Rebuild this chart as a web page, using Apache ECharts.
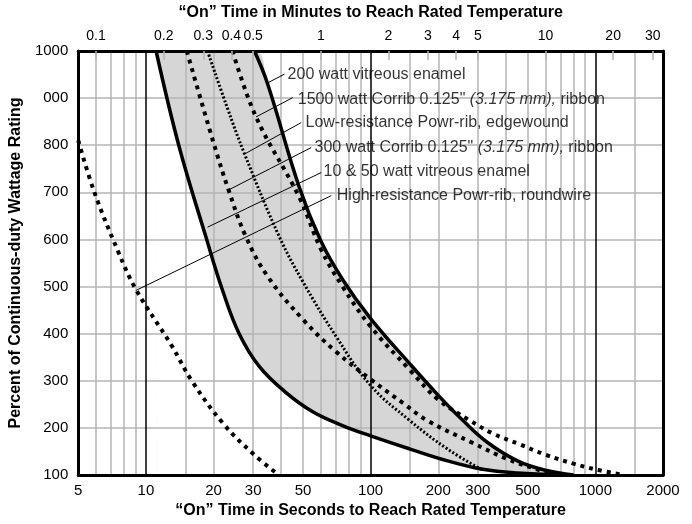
<!DOCTYPE html>
<html>
<head>
<meta charset="utf-8">
<script src="https://cdn.jsdelivr.net/npm/echarts@6/dist/echarts.min.js"></script>
<style>
  html, body { margin: 0; padding: 0; background: #fff; }
  #chart { width: 692px; height: 524px; }
</style>
</head>
<body>
<div id="chart"></div>
<script>
  // axis ticks
  const secTicks = [5, 10, 20, 30, 50, 100, 200, 300, 500, 1000, 2000]
  const minTicks = [0.1, 0.2, 0.3, 0.4, 0.5, 1, 2, 3, 4, 5, 10, 20, 30]
  const yTickLabels = ['100', '200', '300', '400', '500', '600', '700', '800', '000', '1000']
  const gridSecLight = [6, 7, 8, 9, 15, 20, 30, 40, 50, 60, 70, 80, 90, 150, 200, 300, 400, 500, 600, 700, 800, 900, 1500]
  const gridSecDark = [10, 100, 1000]
  const gridPct = [200, 300, 400, 500, 600, 700, 800, 900]

  // curves: [seconds, percent]
  const enamel200 = [[30.4, 1000], [34.7, 932], [48.2, 710], [60, 597], [75, 515], [100, 432], [150, 335], [200, 269], [257, 216], [329, 170], [450, 130], [600, 110], [800, 100]]
  const corrib1500 = [[24.3, 1000], [30.9, 860], [48.2, 689], [60, 580], [75, 500], [100, 415], [150, 322], [200, 260], [276, 216], [350, 188], [461, 165], [600, 143], [800, 124], [1000, 112], [1330, 100]]
  const powrribLow = [[18.8, 1000], [23, 880], [27.5, 781], [39.3, 605], [50, 510], [70, 395], [100, 290], [149, 216], [220, 155], [316, 110]]
  const corrib300 = [[15.2, 1000], [20, 805], [23.4, 703], [27.9, 605], [35, 520], [50, 430], [70, 362], [100, 303], [140, 252], [178, 216], [285, 168], [400, 135], [550, 112], [675, 100]]
  const enamel10_50 = [[11.1, 1000], [14, 800], [18.5, 605], [22, 490], [26, 400], [32, 330], [42, 275], [55, 235], [75, 205], [100, 183], [150, 155], [220, 130], [316, 112], [450, 104], [700, 100]]
  const powrribHigh = [[5, 810], [5.9, 700], [7.5, 576], [9, 495], [13, 375], [16, 300], [22, 210], [30, 145], [39, 100]]

  // labels with leader lines: text anchor, leader start, leader end
  const labelNames = [
    '200 watt vitreous enamel',
    '1500 watt Corrib 0.125" {i|(3.175 mm),} ribbon',
    'Low-resistance Powr-rib, edgewound',
    '300 watt Corrib 0.125" {i|(3.175 mm),} ribbon',
    '10 & 50 watt vitreous enamel',
    'High-resistance Powr-rib, roundwire'
  ]
  const labelAt = [[42.7, 949], [47.4, 896], [51.3, 848], [56.3, 795], [61.7, 744], [70.7, 693]]
  const leaderFrom = [[41.4, 951], [45.0, 901], [49.1, 848], [54.4, 795], [60.3, 742], [66.8, 693]]
  const leaderTo = [[34.7, 932], [30.9, 860], [27.4, 781], [23.1, 704], [18.8, 626], [9.05, 492]]

  const font = '"Liberation Sans", Arial, Helvetica, sans-serif'
  const myChart = echarts.init(document.getElementById('chart'))

  const dash = [4, 5]
  const dot = [2, 2]
  function curve (name, data, type, width) {
    return {
      name: name,
      type: 'line',
      data: data,
      smooth: 0.4,
      showSymbol: false,
      symbol: 'none',
      z: 5,
      lineStyle: { color: '#000', width: width, type: type, cap: 'butt' }
    }
  }

  const option = {
    animation: false,
    backgroundColor: '#fff',
    textStyle: { fontFamily: font },
    grid: { left: 75, right: 29, top: 50, bottom: 49 },
    xAxis: [
      {
        type: 'log',
        logBase: 10,
        min: 5,
        max: 2000,
        position: 'bottom',
        z: 10,
        name: '“On” Time in Seconds to Reach Rated Temperature',
        nameLocation: 'middle',
        nameGap: 28,
        nameTextStyle: { fontSize: 16, fontWeight: 'bold', color: '#000', verticalAlign: 'top' },
        axisLine: { lineStyle: { color: '#000', width: 3 } },
        axisTick: { show: false },
        splitLine: { show: false },
        minorSplitLine: { show: false },
        axisLabel: {
          customValues: secTicks,
          color: '#000',
          fontSize: 15,
          margin: 8,
          formatter: (v) => String(Math.round(v))
        }
      },
      {
        type: 'log',
        logBase: 10,
        min: 5 / 60,
        max: 2000 / 60,
        position: 'top',
        z: 10,
        name: '“On” Time in Minutes to Reach Rated Temperature',
        nameLocation: 'middle',
        nameGap: 30,
        nameTextStyle: { fontSize: 16, fontWeight: 'bold', color: '#000' },
        axisLine: { lineStyle: { color: '#000', width: 3 } },
        axisTick: {
          customValues: minTicks,
          inside: true,
          length: 9,
          lineStyle: { color: '#b5b5b5', width: 1.5 }
        },
        splitLine: { show: false },
        axisLabel: {
          customValues: minTicks,
          color: '#000',
          fontSize: 14,
          margin: 8,
          formatter: (v) => String(Number(v.toPrecision(2)))
        }
      }
    ],
    yAxis: [
      {
        type: 'value',
        min: 100,
        max: 1000,
        interval: 100,
        z: 10,
        name: 'Percent of Continuous-duty Wattage Rating',
        nameLocation: 'middle',
        nameGap: 43,
        nameTextStyle: { fontSize: 16, fontWeight: 'bold', color: '#000' },
        axisLine: { show: true, lineStyle: { color: '#000', width: 3 } },
        axisTick: { show: false },
        splitLine: { show: false },
        axisLabel: {
          color: '#000',
          fontSize: 15,
          margin: 10,
          formatter: (v) => yTickLabels[Math.round((v - 100) / 100)]
        }
      },
      {
        type: 'value',
        min: 100,
        max: 1000,
        position: 'right',
        z: 10,
        axisLine: { show: true, lineStyle: { color: '#000', width: 3 } },
        axisTick: { show: false },
        axisLabel: { show: false },
        splitLine: { show: false }
      }
    ],
    series: [
      // shaded band: gray under the outer curve, white under the inner one
      {
        type: 'line',
        data: [[enamel10_50[0][0], 1000]].concat(enamel200),
        smooth: 0.4,
        symbol: 'none',
        z: 1,
        lineStyle: { width: 0 },
        areaStyle: { color: '#d6d6d6', opacity: 1 }
      },
      {
        type: 'line',
        data: enamel10_50,
        smooth: 0.4,
        symbol: 'none',
        z: 1,
        lineStyle: { width: 0 },
        areaStyle: { color: '#ffffff', opacity: 1 }
      },
      // grid lines
      {
        type: 'line',
        data: [],
        z: 2,
        markLine: {
          silent: true,
          symbol: 'none',
          animation: false,
          label: { show: false },
          lineStyle: { color: '#b5b5b5', width: 1.5, type: 'solid' },
          data: gridSecLight.map((v) => ({ xAxis: v }))
            .concat(gridPct.map((v) => ({ yAxis: v })))
            .concat(gridSecDark.map((v) => ({ xAxis: v, lineStyle: { color: '#000', width: 1.5 } })))
        }
      },
      curve('10 & 50 watt vitreous enamel', enamel10_50, 'solid', 3.5),
      curve('300 watt Corrib', corrib300, dash, 4),
      curve('Low-resistance Powr-rib', powrribLow, dot, 3),
      curve('1500 watt Corrib', corrib1500, dash, 4),
      curve('200 watt vitreous enamel', enamel200, 'solid', 3.5),
      curve('High-resistance Powr-rib', powrribHigh, dash, 4),
      // leader lines
      {
        type: 'line',
        data: [],
        z: 6,
        markLine: {
          silent: true,
          symbol: 'none',
          animation: false,
          label: { show: false },
          lineStyle: { color: '#000', width: 1, type: 'solid' },
          data: leaderFrom.map((p, i) => [{ coord: p }, { coord: leaderTo[i] }])
        }
      },
      // label text
      {
        type: 'scatter',
        symbolSize: 0,
        z: 7,
        data: labelAt.map((p, i) => ({ value: p, name: labelNames[i] })),
        label: {
          show: true,
          position: 'right',
          distance: 0,
          color: '#000',
          fontSize: 16,
          fontFamily: font,
          formatter: (p) => p.name,
          rich: { i: { fontStyle: 'italic', fontSize: 16, color: '#000', fontFamily: font } }
        }
      }
    ]
  }
  myChart.setOption(option)
</script>
</body>
</html>
